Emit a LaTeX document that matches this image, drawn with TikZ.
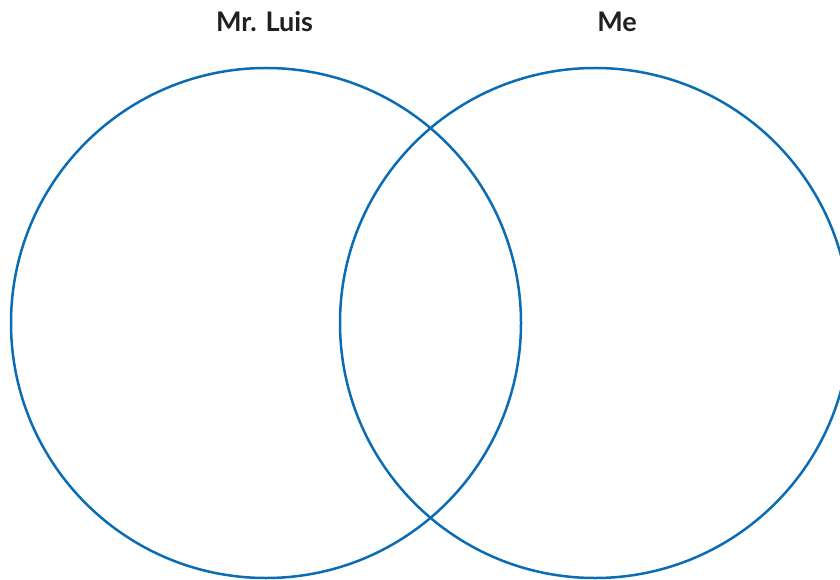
\documentclass[tikz,border=0pt]{standalone}
\usepackage{fontspec}
\setmainfont{Lato}
\definecolor{vblue}{HTML}{0A6CB4}
\definecolor{vtext}{HTML}{231F20}
\begin{document}
\begin{tikzpicture}[x=1pt,y=-1pt,
  ring/.style={draw=vblue,line width=2.5pt},
  title/.style={font=\fontsize{27}{30}\selectfont\bfseries,text=vtext,anchor=base}]
\useasboundingbox (0,0) rectangle (840,580);
\begin{scope}
\clip (0,0) rectangle (840,580);
\node[ring,circle,minimum size=510pt,inner sep=0pt] (luis) at (266,323) {};
\node[ring,circle,minimum size=510pt,inner sep=0pt] (me) at (595,323) {};
\end{scope}
\node[title] (tluis) at (264.5,32) {Mr. Luis};
\node[title] (tme) at (617,32) {Me};
\end{tikzpicture}
\end{document}
